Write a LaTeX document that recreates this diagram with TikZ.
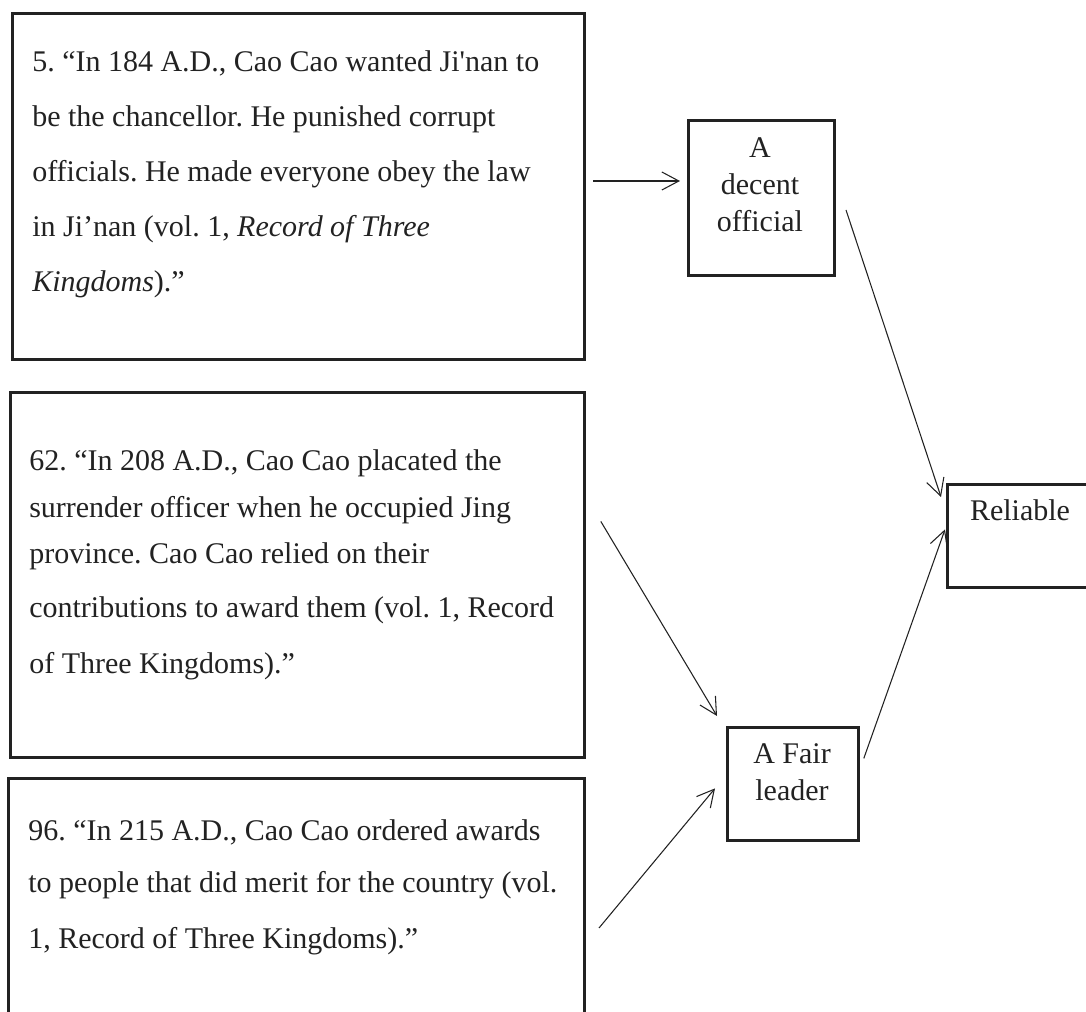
\documentclass[tikz,border=0pt]{standalone}
\usepackage{fontspec}
\setmainfont{Liberation Serif}
\newfontfamily\plainq{Liberation Serif}[Ligatures=TeXOff]
\usetikzlibrary{arrows.meta,calc}
\definecolor{ink}{HTML}{222222}
\frenchspacing
\begin{document}
\frenchspacing
\begin{tikzpicture}[x=0.75pt,y=-0.75pt,
  box/.style={draw=ink, line width=2.1pt, inner sep=0pt, anchor=north west},
  txt/.style={inner sep=0pt, anchor=base west, align=left, text=ink},
  ctxt/.style={inner sep=0pt, anchor=base, align=center, text=ink},
  conn/.style={draw=ink, line width=0.8pt, -{Straight Barb[length=12.75pt,width=13.5pt]}}]
\useasboundingbox (0,0) rectangle (1086,1012);
\clip (0,0) rectangle (1086,1012);
% boxes
\node[box, minimum width=429pt, minimum height=259.5pt] (b1) at (11,12) {};
\node[box, minimum width=430.5pt, minimum height=273.75pt] (b2) at (9,391) {};
\node[box, minimum width=432pt, minimum height=189.75pt] (b3) at (7,777) {};
\node[box, minimum width=109.5pt, minimum height=116.25pt] (dec) at (687,119) {};
\node[box, minimum width=98.25pt, minimum height=84.75pt] (fair) at (726,726) {};
\node[box, minimum width=115.5pt, minimum height=77.25pt] (rel) at (946,483) {};
% texts (anchor = baseline of the last line)
\node[txt, font=\fontsize{22.5}{41.25}\selectfont] (t1) at (32,292)
 {5. “In 184 A.D., Cao Cao wanted Ji{\plainq '}nan to\\
  be the chancellor. He punished corrupt\\
  officials. He made everyone obey the law\\
  in Ji’nan (vol. 1, \textit{Record of Three}\\
  \textit{Kingdoms}).”};
\node[txt, font=\fontsize{22.5}{35.25}\selectfont] (t2) at (29,673)
 {62. “In 208 A.D., Cao Cao placated the\\
  surrender officer when he occupied Jing\\[-0.75pt]
  province. Cao Cao relied on their\\[5.25pt]
  contributions to award them (vol. 1, Record\\[6.75pt]
  of Three Kingdoms).”};
\node[txt, font=\fontsize{22.5}{39}\selectfont] (t3) at (28,948)
 {96. “In 215 A.D., Cao Cao ordered awards\\
  to people that did merit for the country (vol.\\[3pt]
  1, Record of Three Kingdoms).”};
\node[ctxt, font=\fontsize{22.5}{27.75}\selectfont] (tdec) at (760,232) {A\\decent\\official};
\node[ctxt, font=\fontsize{22.5}{27.75}\selectfont] (tfair) at (792,800) {A Fair\\leader};
\node[ctxt, font=\fontsize{22.5}{27.75}\selectfont] (trel) at (1020,521) {Reliable};
% connectors
\coordinate (s1) at (593,181);
\coordinate (s2) at (846,210);
\coordinate (s5) at (599,928);
\draw[conn, shorten >=5.25pt] (s1) -- (s1 -| dec.west);
\draw[conn] (s2) -- ($(rel.north west)+(-5,14)$);
\draw[conn] ($(fair.east)+(4,-25.5)$) -- ($(rel.west)+(-1,-6.5)$);
\draw[conn] ($(b2.east)+(15,-53.5)$) -- ($(fair.north west)+(-9,-10)$);
\draw[conn] (s5) -- ($(fair.west)+(-11,4.5)$);
\end{tikzpicture}
\end{document}
